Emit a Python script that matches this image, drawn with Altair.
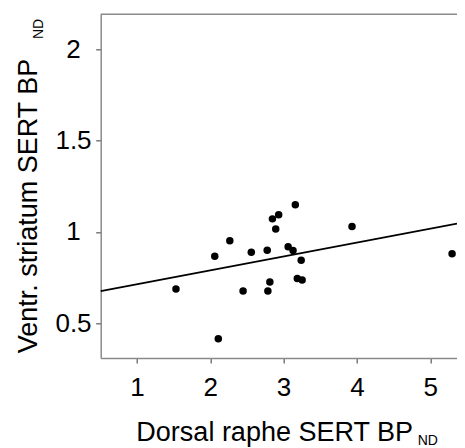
import altair as alt
import pandas as pd

# ---- data ----
x_vals = [1.533, 2.062, 2.110, 2.267, 2.448, 2.560, 2.777, 2.786, 2.813, 2.848,
          2.893, 2.933, 3.062, 3.129, 3.160, 3.240, 3.187, 3.253, 3.933, 5.297]
y_vals = [0.688, 0.867, 0.415, 0.951, 0.677, 0.889, 0.900, 0.677, 0.726, 1.071,
          1.016, 1.093, 0.918, 0.898, 1.148, 0.845, 0.745, 0.737, 1.029, 0.880]
x_ticks = [1, 2, 3, 4, 5]
y_ticks = [0.5, 1, 1.5, 2]
x_domain = [0.507, 5.364]
y_domain = [0.310, 2.190]
x_title = ["Dorsal raphe SERT BP"]
y_title = ["Ventr. striatum SERT BP"]
sub_title = ["ND"]

FONT = "Liberation Sans"
FRAME = "#8a8a8a"
W = 356.3
H = 343.7

df = pd.DataFrame({"dr": x_vals, "vs": y_vals})
xs = alt.Scale(domain=x_domain, nice=False, zero=False)
ys = alt.Scale(domain=y_domain, nice=False, zero=False)

points = alt.Chart(df).mark_circle(size=56, color="black", opacity=1).encode(
    x=alt.X("dr:Q", scale=xs,
            axis=alt.Axis(values=x_ticks, title=None, labelPadding=11,
                          format="d")),
    y=alt.Y("vs:Q", scale=ys,
            axis=alt.Axis(values=y_ticks, title=None, labelAlign="center",
                          labelBaseline="middle", labelPadding=22.7,
                          format="~g")),
)

line = alt.Chart(df).transform_regression(
    "dr", "vs", extent=x_domain
).mark_line(color="black", strokeWidth=1.8).encode(
    x=alt.X("dr:Q", scale=xs), y=alt.Y("vs:Q", scale=ys)
)

top_frame = alt.Chart(pd.DataFrame({"a": [0]})).mark_rule(
    color=FRAME, strokeWidth=1.5
).encode(x=alt.value(0), x2=alt.value(W), y=alt.value(0))

xt = alt.Chart(pd.DataFrame({"t": x_title})).mark_text(
    font=FONT, fontSize=27, align="right", baseline="alphabetic", color="black"
).encode(text="t:N", x=alt.value(312.3), y=alt.value(426.2))

xsub = alt.Chart(pd.DataFrame({"t": sub_title})).mark_text(
    font=FONT, fontSize=14, align="left", baseline="alphabetic", color="black"
).encode(text="t:N", x=alt.value(317), y=alt.value(431))

yt = alt.Chart(pd.DataFrame({"t": y_title})).mark_text(
    font=FONT, fontSize=27, align="center", baseline="alphabetic", angle=270,
    color="black"
).encode(text="t:N", x=alt.value(-64), y=alt.value(191.7))

ysub = alt.Chart(pd.DataFrame({"t": sub_title})).mark_text(
    font=FONT, fontSize=14, align="left", baseline="alphabetic", angle=270,
    color="black"
).encode(text="t:N", x=alt.value(-57.7), y=alt.value(24.7))

chart = alt.layer(line, points, top_frame, xt, xsub, yt, ysub).properties(
    width=W, height=H,
    autosize=alt.AutoSizeParams(type="none"),
    padding={"left": 92.7, "top": 6.3, "right": 0, "bottom": 90},
    background="white",
).configure_view(stroke=None).configure_axis(
    grid=False,
    domainColor=FRAME, domainWidth=1.5,
    tickColor="#666666", tickWidth=1.3, tickSize=5,
    labelFont=FONT, labelFontSize=26, labelColor="black",
)

chart.save("out.html", embed_options={"renderer": "svg", "actions": False})
